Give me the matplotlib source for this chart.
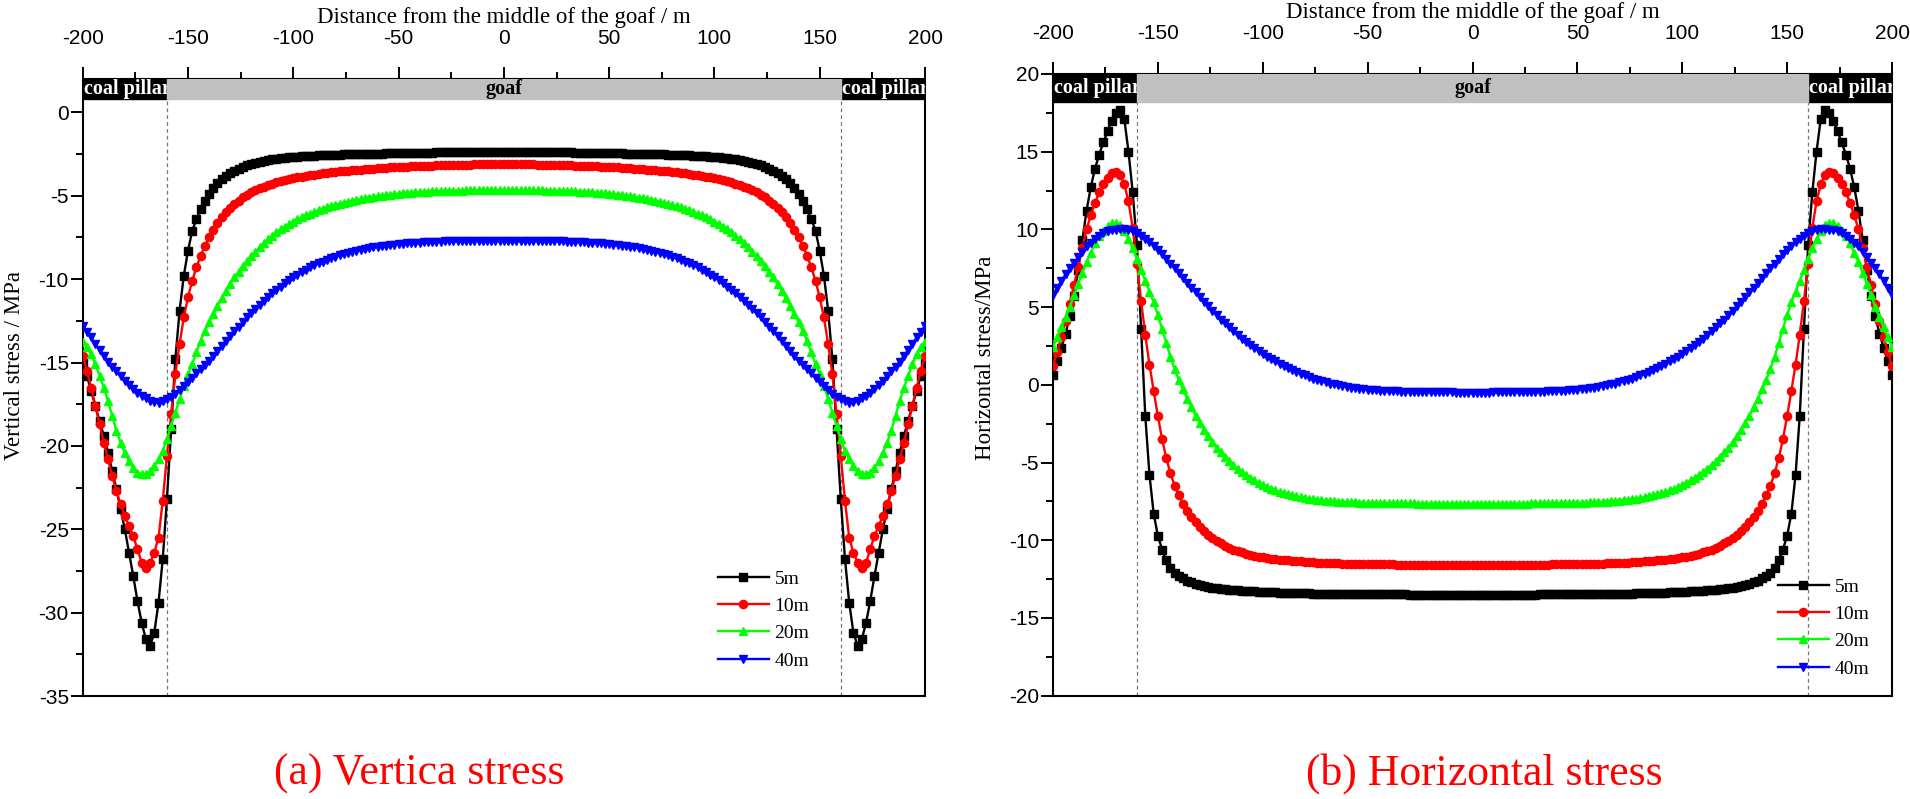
import matplotlib
matplotlib.use('Agg')
import matplotlib.pyplot as plt
from matplotlib.patches import Rectangle
from matplotlib.ticker import MultipleLocator

plt.rcParams['font.family'] = ['Liberation Sans', 'DejaVu Sans']
plt.rcParams['axes.unicode_minus'] = False

# sampling grid from the left edge to the middle (profiles are symmetric)
x_half = list(range(-200, 1, 2))

# vertical stress (MPa), x = -200 ... 0
vs_5m = [-15.0, -15.8, -16.7, -17.6, -18.5, -19.4, -20.4, -21.5, -22.6, -23.8,
         -25.0, -26.4, -27.8, -29.3, -30.6, -31.6, -32.0, -31.2, -29.4, -26.8,
         -23.2, -19.0, -14.8, -11.9, -9.8, -8.3, -7.1, -6.4, -5.8, -5.3,
         -4.9, -4.55, -4.25, -4.0, -3.8, -3.64, -3.5, -3.37, -3.25, -3.16,
         -3.08, -3.01, -2.95, -2.9, -2.86, -2.82, -2.79, -2.76, -2.73, -2.7,
         -2.68, -2.66, -2.64, -2.62, -2.61, -2.59, -2.58, -2.57, -2.56, -2.55,
         -2.54, -2.53, -2.52, -2.51, -2.5, -2.5, -2.49, -2.49, -2.48, -2.48,
         -2.47, -2.47, -2.46, -2.46, -2.45, -2.45, -2.44, -2.44, -2.43, -2.43,
         -2.42, -2.42, -2.41, -2.41, -2.4, -2.4, -2.39, -2.39, -2.38, -2.38,
         -2.37, -2.37, -2.37, -2.37, -2.36, -2.36, -2.36, -2.36, -2.35, -2.35,
         -2.35]
vs_10m = [-14.6, -15.5, -16.5, -17.6, -18.7, -19.8, -20.8, -21.8, -22.7, -23.5,
          -24.2, -24.8, -25.4, -26.2, -27.0, -27.3, -27.0, -26.4, -25.5, -23.3,
          -20.6, -18.1, -15.7, -13.9, -12.3, -11.1, -10.1, -9.3, -8.6, -8.0,
          -7.5, -7.05, -6.65, -6.3, -6.0, -5.75, -5.5, -5.3, -5.1, -4.95,
          -4.8, -4.67, -4.55, -4.45, -4.35, -4.27, -4.2, -4.13, -4.07, -4.01,
          -3.95, -3.9, -3.85, -3.81, -3.77, -3.73, -3.7, -3.66, -3.63, -3.6,
          -3.57, -3.54, -3.52, -3.49, -3.47, -3.45, -3.43, -3.41, -3.39, -3.37,
          -3.35, -3.33, -3.32, -3.3, -3.29, -3.27, -3.26, -3.25, -3.24, -3.23,
          -3.22, -3.21, -3.2, -3.19, -3.18, -3.17, -3.16, -3.15, -3.15, -3.14,
          -3.14, -3.13, -3.13, -3.12, -3.12, -3.11, -3.11, -3.1, -3.1, -3.1,
          -3.1]
vs_20m = [-13.8, -14.1, -14.5, -15.1, -15.8, -16.5, -17.3, -18.2, -19.1, -19.8,
          -20.4, -20.9, -21.3, -21.6, -21.7, -21.7, -21.5, -21.2, -20.8, -20.3,
          -19.6, -18.8, -18.0, -17.2, -16.4, -15.7, -15.1, -14.4, -13.7, -13.1,
          -12.6, -12.1, -11.6, -11.15, -10.7, -10.3, -9.9, -9.55, -9.2, -8.9,
          -8.6, -8.35, -8.1, -7.85, -7.6, -7.4, -7.2, -7.02, -6.85, -6.7,
          -6.55, -6.42, -6.3, -6.18, -6.07, -5.97, -5.87, -5.78, -5.7, -5.62,
          -5.55, -5.48, -5.42, -5.36, -5.3, -5.25, -5.2, -5.15, -5.11, -5.07,
          -5.03, -4.99, -4.96, -4.93, -4.9, -4.87, -4.85, -4.83, -4.81, -4.79,
          -4.78, -4.76, -4.75, -4.74, -4.73, -4.72, -4.71, -4.7, -4.7, -4.69,
          -4.69, -4.68, -4.68, -4.67, -4.67, -4.67, -4.67, -4.66, -4.66, -4.66,
          -4.66]
vs_40m = [-12.8, -13.15, -13.5, -13.9, -14.25, -14.6, -14.95, -15.25, -15.5, -15.8,
          -16.1, -16.35, -16.6, -16.8, -17.0, -17.15, -17.3, -17.37, -17.4, -17.33,
          -17.2, -17.05, -16.9, -16.65, -16.4, -16.15, -15.9, -15.65, -15.4, -15.15,
          -14.9, -14.6, -14.3, -14.0, -13.7, -13.4, -13.1, -12.85, -12.6, -12.3,
          -12.05, -11.8, -11.55, -11.3, -11.1, -10.85, -10.65, -10.45, -10.25, -10.07,
          -9.9, -9.75, -9.6, -9.45, -9.3, -9.17, -9.05, -8.95, -8.85, -8.75,
          -8.65, -8.57, -8.5, -8.43, -8.36, -8.3, -8.24, -8.19, -8.14, -8.1,
          -8.06, -8.02, -7.99, -7.96, -7.93, -7.9, -7.88, -7.86, -7.84, -7.82,
          -7.81, -7.79, -7.78, -7.77, -7.76, -7.75, -7.74, -7.73, -7.73, -7.72,
          -7.72, -7.71, -7.71, -7.7, -7.7, -7.7, -7.7, -7.7, -7.7, -7.7,
          -7.7]

# horizontal stress (MPa), x = -200 ... 0
hs_5m = [0.6, 1.5, 2.4, 3.3, 4.4, 5.7, 7.4, 9.3, 11.2, 12.7,
         13.9, 14.8, 15.6, 16.3, 17.0, 17.5, 17.7, 17.1, 15.0, 12.4,
         9.0, 3.6, -2.0, -5.8, -8.3, -9.7, -10.6, -11.3, -11.8, -12.1,
         -12.3, -12.45, -12.6, -12.7, -12.8, -12.88, -12.95, -13.0, -13.05, -13.09,
         -13.12, -13.15, -13.18, -13.21, -13.23, -13.25, -13.27, -13.29, -13.3, -13.32,
         -13.33, -13.34, -13.35, -13.36, -13.37, -13.38, -13.39, -13.4, -13.41, -13.41,
         -13.42, -13.42, -13.43, -13.43, -13.44, -13.44, -13.45, -13.45, -13.46, -13.46,
         -13.47, -13.47, -13.47, -13.47, -13.48, -13.48, -13.48, -13.48, -13.48, -13.49,
         -13.49, -13.49, -13.49, -13.49, -13.49, -13.5, -13.5, -13.5, -13.5, -13.5,
         -13.5, -13.5, -13.5, -13.5, -13.5, -13.5, -13.5, -13.5, -13.5, -13.5,
         -13.5]
hs_10m = [1.2, 2.1, 3.1, 4.1, 5.2, 6.4, 7.6, 8.8, 10.0, 10.9,
          11.7, 12.4, 12.9, 13.3, 13.6, 13.7, 13.5, 12.9, 11.8, 10.1,
          7.8, 5.4, 3.2, 1.3, -0.4, -2.0, -3.5, -4.7, -5.7, -6.5,
          -7.1, -7.65, -8.1, -8.5, -8.85, -9.15, -9.4, -9.65, -9.85, -10.05,
          -10.2, -10.35, -10.48, -10.6, -10.7, -10.79, -10.87, -10.94, -11.0, -11.05,
          -11.1, -11.14, -11.18, -11.22, -11.25, -11.28, -11.3, -11.33, -11.35, -11.37,
          -11.39, -11.41, -11.42, -11.44, -11.45, -11.46, -11.47, -11.48, -11.49, -11.5,
          -11.51, -11.52, -11.52, -11.53, -11.53, -11.54, -11.54, -11.55, -11.55, -11.56,
          -11.56, -11.56, -11.57, -11.57, -11.57, -11.58, -11.58, -11.58, -11.58, -11.59,
          -11.59, -11.59, -11.59, -11.6, -11.6, -11.6, -11.6, -11.6, -11.6, -11.6,
          -11.6]
hs_20m = [2.45, 3.05, 3.7, 4.35, 5.0, 5.75, 6.5, 7.2, 7.9, 8.5,
          9.1, 9.55, 9.9, 10.2, 10.4, 10.4, 10.3, 9.9, 9.4, 8.8,
          8.1, 7.4, 6.7, 6.0, 5.3, 4.5, 3.6, 2.7, 1.8, 1.0,
          0.3, -0.3, -0.9, -1.45, -2.0, -2.45, -2.9, -3.3, -3.7, -4.05,
          -4.35, -4.65, -4.9, -5.15, -5.4, -5.6, -5.8, -5.98, -6.15, -6.3,
          -6.45, -6.58, -6.7, -6.8, -6.9, -6.98, -7.05, -7.12, -7.18, -7.23,
          -7.28, -7.32, -7.36, -7.39, -7.42, -7.45, -7.47, -7.49, -7.51, -7.53,
          -7.54, -7.56, -7.57, -7.58, -7.59, -7.6, -7.6, -7.61, -7.61, -7.62,
          -7.62, -7.62, -7.62, -7.63, -7.63, -7.63, -7.63, -7.64, -7.64, -7.64,
          -7.64, -7.64, -7.65, -7.65, -7.65, -7.65, -7.65, -7.65, -7.65, -7.65,
          -7.65]
hs_40m = [5.8, 6.25, 6.7, 7.1, 7.5, 7.85, 8.2, 8.55, 8.9, 9.15,
          9.4, 9.6, 9.75, 9.87, 9.95, 9.99, 10.0, 10.0, 9.95, 9.87,
          9.75, 9.6, 9.4, 9.2, 8.95, 8.7, 8.4, 8.1, 7.8, 7.5,
          7.2, 6.88, 6.55, 6.25, 5.95, 5.65, 5.35, 5.05, 4.75, 4.47,
          4.2, 3.95, 3.7, 3.45, 3.2, 2.97, 2.75, 2.55, 2.35, 2.17,
          2.0, 1.82, 1.65, 1.5, 1.35, 1.21, 1.07, 0.94, 0.82, 0.71,
          0.6, 0.5, 0.4, 0.31, 0.23, 0.15, 0.08, 0.02, -0.04, -0.09,
          -0.14, -0.18, -0.22, -0.26, -0.29, -0.32, -0.34, -0.36, -0.38, -0.4,
          -0.41, -0.42, -0.43, -0.44, -0.45, -0.455, -0.46, -0.465, -0.47, -0.475,
          -0.48, -0.485, -0.49, -0.49, -0.49, -0.495, -0.5, -0.5, -0.5, -0.5,
          -0.5]

labels = ['5m', '10m', '20m', '40m']
colors = ['black', '#ff0000', '#00ff00', '#0000ff']
markers = ['s', 'o', '^', 'v']
msizes = [5.4, 5.9, 6.4, 6.4]


def mirror(half):
    return half + half[-2::-1]


x = x_half + [-v for v in x_half[-2::-1]]

fig = plt.figure(figsize=(19.10, 7.99), dpi=100)
ax1 = fig.add_axes([0.0433, 0.1289, 0.441, 0.7722])
ax2 = fig.add_axes([0.5513, 0.1294, 0.4393, 0.778])

serif = 'Liberation Serif'


def setup(ax, ylim, bar_lo, ylabel, ylab_pos):
    ax.set_xlim(-200, 200)
    ax.set_ylim(*ylim)
    ax.xaxis.set_ticks_position('top')
    ax.xaxis.set_label_position('top')
    ax.set_xticks(range(-200, 201, 50))
    ax.xaxis.set_minor_locator(MultipleLocator(25))
    ax.yaxis.set_major_locator(MultipleLocator(5))
    ax.yaxis.set_minor_locator(MultipleLocator(2.5))
    ax.tick_params(which='both', direction='out', width=1.4, labelsize=15)
    ax.tick_params(which='major', length=8.5)
    ax.tick_params(which='minor', length=5)
    ax.tick_params(axis='x', which='major', pad=14)
    ax.tick_params(axis='y', pad=1.5)
    for s in ax.spines.values():
        s.set_linewidth(1.5)
    ax.set_xlabel('Distance from the middle of the goaf / m', family=serif,
                  fontsize=16.5, labelpad=4)
    ax.set_ylabel(ylabel, family=serif, fontsize=16.5)
    ax.yaxis.set_label_coords(*ylab_pos)

    top = ylim[1]
    h = top - bar_lo
    ax.add_patch(Rectangle((-200, bar_lo), 40, h, color='black', zorder=5))
    ax.add_patch(Rectangle((160, bar_lo), 40, h, color='black', zorder=5))
    ax.add_patch(Rectangle((-160, bar_lo), 320, h, color='#c0c0c0', zorder=7))
    ym = bar_lo + h / 2
    ax.text(-199.5, ym, 'coal pillar', color='white', fontweight='bold',
            family=serif, fontsize=14.5, ha='left', va='center', zorder=6,
            clip_on=True)
    ax.text(160.5, ym, 'coal pillar', color='white', fontweight='bold',
            family=serif, fontsize=14.5, ha='left', va='center', zorder=6,
            clip_on=True)
    ax.text(0, ym, 'goaf', color='black', fontweight='bold', family=serif,
            fontsize=14.5, ha='center', va='center', zorder=8)
    for xv in (-160, 160):
        ax.plot([xv, xv], [ylim[0], bar_lo], color='#777777', lw=0.9,
                ls=(0, (3, 2.5)), zorder=1)


setup(ax1, (-35, 2), 0.8, 'Vertical stress / MPa', (-0.068, 0.536))
setup(ax2, (-20, 20), 18.2, 'Horizontal stress/MPa', (-0.068, 0.543))

for ax, series in ((ax1, [vs_5m, vs_10m, vs_20m, vs_40m]),
                   (ax2, [hs_5m, hs_10m, hs_20m, hs_40m])):
    for ys, lab, c, m, ms in zip(series, labels, colors, markers, msizes):
        ax.plot(x, mirror(ys), color=c, marker=m, markersize=ms, lw=1.7,
                label=lab, zorder=3)

leg_kw = dict(frameon=False, loc='upper left', borderaxespad=0, borderpad=0,
              handlelength=2.6, handletextpad=0.3, labelspacing=0.5,
              prop={'family': serif, 'size': 14})
ax1.legend(bbox_to_anchor=(718 / 1910, 1 - 570 / 799),
           bbox_transform=fig.transFigure, **leg_kw)
ax2.legend(bbox_to_anchor=(1778 / 1910, 1 - 578 / 799),
           bbox_transform=fig.transFigure, **leg_kw)

fig.text(419 / 1910, 1 - 774 / 799, '(a) Vertica stress', color='#ff0000',
         family=serif, fontsize=31.5, ha='center', va='center')
fig.text(1484 / 1910, 1 - 774 / 799, '(b) Horizontal stress', color='#ff0000',
         family=serif, fontsize=31.5, ha='center', va='center')

fig.savefig('out.png', dpi=100)
